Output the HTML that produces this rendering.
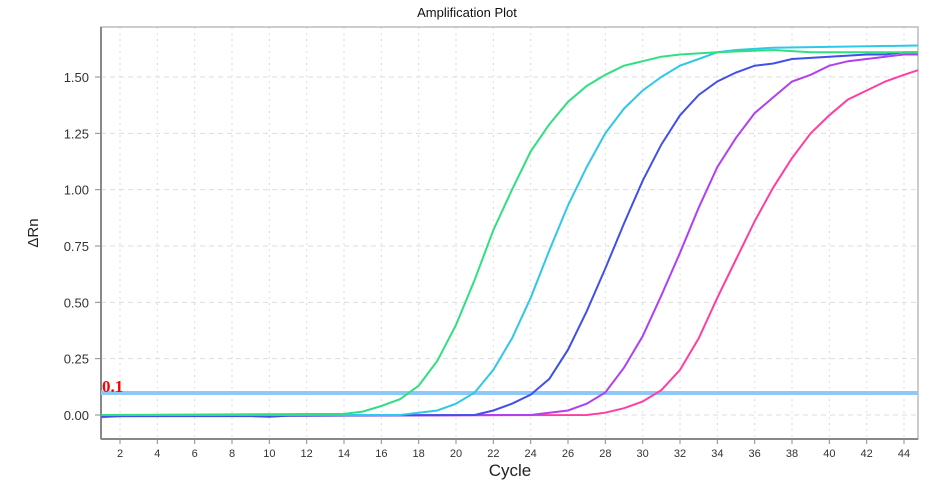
<!DOCTYPE html><html><head><style>body{margin:0;background:#fff}svg{display:block;font-family:"Liberation Sans",sans-serif}</style></head><body>
<svg id="s" width="934" height="482" xmlns="http://www.w3.org/2000/svg">
<rect width="934" height="482" fill="#fff"/>
<text x="467" y="17" font-size="13" text-anchor="middle" fill="#111">Amplification Plot</text>
<g id="grid"></g>
<rect x="101" y="27" width="817" height="412" fill="none" stroke="#bbb" stroke-width="1.5"/>
<line x1="101" y1="27" x2="101" y2="439" stroke="#888" stroke-width="2"/>
<line x1="101" y1="439" x2="918" y2="439" stroke="#888" stroke-width="2"/>
<line x1="101" y1="393" x2="918" y2="393" stroke="#8ec8f8" stroke-width="4"/>
<text x="102" y="392" font-size="17" font-weight="bold" fill="#f00" font-family="Liberation Serif,serif">0.1</text>
<g id="curves" fill="none" stroke-width="2"></g>
<text x="510" y="476" font-size="17" text-anchor="middle" fill="#222">Cycle</text>
<text x="38" y="233" font-size="15" text-anchor="middle" fill="#222" transform="rotate(-90 38 233)">ΔRn</text>
</svg>
<script>
var NS="http://www.w3.org/2000/svg",g=document.getElementById('grid'),s=document.getElementById('s'),cv=document.getElementById('curves');
function X(c){return 120+(c-2)*18.667}function Y(v){return 415-v*225.33}
function el(p,t,a){var e=document.createElementNS(NS,t);for(var k in a)e.setAttribute(k,a[k]);p.appendChild(e);return e}
for(var c=2;c<=44;c+=2){el(g,'line',{x1:X(c),y1:27,x2:X(c),y2:439,stroke:'#ddd','stroke-dasharray':'2,4'});el(g,'line',{x1:X(c),y1:439,x2:X(c),y2:444,stroke:'#888'});var t=el(s,'text',{x:X(c),y:457,'font-size':11,'text-anchor':'middle',fill:'#333'});t.textContent=c;}
for(var i=0;i<=6;i++){var v=i*0.25;el(g,'line',{x1:101,y1:Y(v),x2:918,y2:Y(v),stroke:'#ddd','stroke-dasharray':'5,4'});el(g,'line',{x1:95,y1:Y(v),x2:101,y2:Y(v),stroke:'#888'});var t=el(s,'text',{x:89,y:Y(v)+5,'font-size':13,'text-anchor':'end',fill:'#333'});t.textContent=v.toFixed(2);}
var D=[
['#ff3fa0',{1:-0.005,27:0,28:0.01,29:0.03,30:0.06,31:0.11,32:0.2,33:0.34,34:0.52,35:0.69,36:0.86,37:1.01,38:1.14,39:1.25,40:1.33,41:1.40,42:1.44,43:1.48,44:1.51,44.75:1.53}],
['#b040f0',{1:-0.01,2:-0.005,24:0,25:0.01,26:0.02,27:0.05,28:0.1,29:0.21,30:0.35,31:0.53,32:0.72,33:0.92,34:1.1,35:1.23,36:1.34,37:1.41,38:1.48,39:1.51,40:1.55,41:1.57,42:1.58,43:1.59,44:1.60,44.75:1.60}],
['#4050e8',{1:-0.005,9:-0.005,10:-0.008,11:-0.003,21:0,22:0.02,23:0.05,24:0.09,25:0.16,26:0.29,27:0.46,28:0.65,29:0.85,30:1.04,31:1.2,32:1.33,33:1.42,34:1.48,35:1.52,36:1.55,37:1.56,38:1.58,40:1.59,42:1.6,43:1.6,44:1.61,44.75:1.61}],
['#30c8e8',{1:0,17:0,18:0.01,19:0.02,20:0.05,21:0.1,22:0.2,23:0.34,24:0.52,25:0.73,26:0.93,27:1.1,28:1.25,29:1.36,30:1.44,31:1.5,32:1.55,33:1.58,34:1.61,35:1.62,37:1.63,44.75:1.64}],
['#30e080',{1:0,14:0.005,15:0.015,16:0.04,17:0.07,18:0.13,19:0.24,20:0.40,21:0.6,22:0.82,23:1.0,24:1.17,25:1.29,26:1.39,27:1.46,28:1.51,29:1.55,30:1.57,31:1.59,32:1.60,34:1.61,37:1.62,39:1.61,44.75:1.61}]];
D.forEach(function(q){var p=[];Object.keys(q[1]).map(Number).sort(function(a,b){return a-b}).forEach(function(c){p.push(X(c).toFixed(1)+','+Y(q[1][c]).toFixed(1));});el(cv,'polyline',{points:p.join(' '),stroke:q[0]});});
</script>
</body></html>
